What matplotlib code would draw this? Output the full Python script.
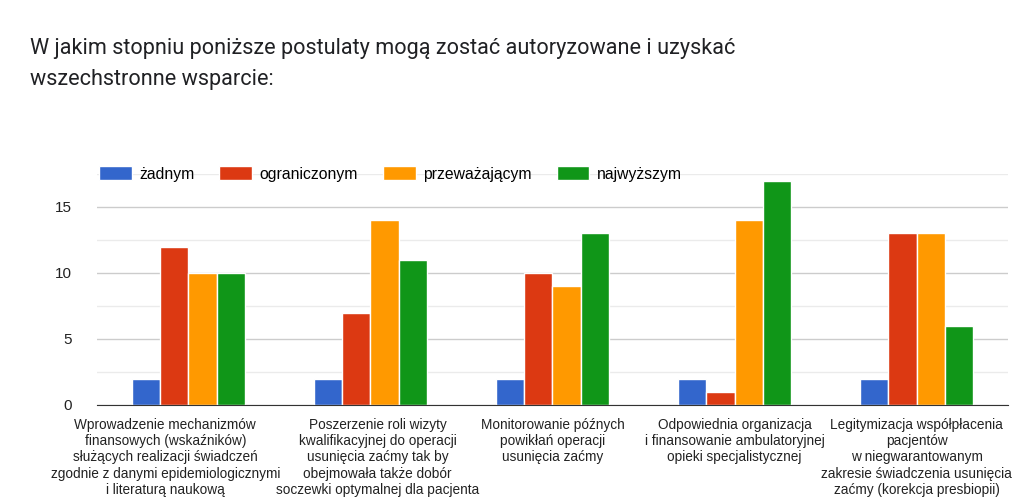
import matplotlib.pyplot as plt
import matplotlib.transforms as mtransforms
import numpy as np

title = "W jakim stopniu poniższe postulaty mogą zostać autoryzowane i uzyskać\nwszechstronne wsparcie:"

categories = [
    "Wprowadzenie mechanizmów\nfinansowych (wskaźników)\nsłużących realizacji świadczeń\nzgodnie z danymi epidemiologicznymi\ni literaturą naukową",
    "Poszerzenie roli wizyty\nkwalifikacyjnej do operacji\nusunięcia zaćmy tak by\nobejmowała także dobór\nsoczewki optymalnej dla pacjenta",
    "Monitorowanie późnych\npowikłań operacji\nusunięcia zaćmy",
    "Odpowiednia organizacja\ni finansowanie ambulatoryjnej\nopieki specjalistycznej",
    "Legitymizacja współpłacenia\npacjentów\nw niegwarantowanym\nzakresie świadczenia usunięcia\nzaćmy (korekcja presbiopii)",
]

series_names = ["żadnym", "ograniczonym", "przeważającym", "najwyższym"]
zadnym = [2, 2, 2, 2, 2]
ograniczonym = [12, 7, 10, 1, 13]
przewazajacym = [10, 14, 9, 14, 13]
najwyzszym = [10, 11, 13, 17, 6]
colors = ["#3366cc", "#dc3912", "#ff9900", "#109618"]

values = [zadnym, ograniczonym, przewazajacym, najwyzszym]

fig = plt.figure(figsize=(10.24, 5), dpi=100)
ax = fig.add_axes([0.095, 0.19, 0.889, 0.462])

x = np.arange(len(categories))
w = 0.155
for i, (name, vals) in enumerate(zip(series_names, values)):
    ax.bar(x + (i - 1.5) * w, vals, width=w, color=colors[i], label=name,
           edgecolor="white", linewidth=1, zorder=3)

ax.set_xlim(-0.5, len(categories) - 0.5)
ax.set_ylim(0, 17.5)
ax.set_yticks([0, 5, 10, 15])
ax.set_yticks([2.5, 7.5, 12.5, 17.5], minor=True)
ax.grid(axis="y", which="major", color="#cccccc", linewidth=1, zorder=0)
ax.grid(axis="y", which="minor", color="#ebebeb", linewidth=1, zorder=0)
for s in ["top", "right", "left"]:
    ax.spines[s].set_visible(False)
ax.spines["bottom"].set_color("#333333")
ax.spines["bottom"].set_zorder(4)
ax.tick_params(axis="y", which="both", length=0, labelsize=11, labelcolor="#222222", pad=18)
ax.tick_params(axis="x", length=0, labelsize=9.8, labelcolor="#222222", pad=9)
ax.set_xticks(x)
ax.set_xticklabels(categories, family="Liberation Sans", linespacing=1.22)
for lbl in ax.get_yticklabels():
    lbl.set_family("Liberation Sans")

# nudge the first two labels apart, like the original chart does
shifts = [-23, 7, 0, 0, 0]
for lbl, dx in zip(ax.get_xticklabels(), shifts):
    lbl.set_transform(lbl.get_transform() + mtransforms.ScaledTranslation(dx / 100, 0, fig.dpi_scale_trans))

ax.legend(loc="center left", bbox_to_anchor=(-0.005, 1.0), ncol=4, frameon=False,
          prop={"family": "Liberation Sans", "size": 11.3},
          handlelength=2.1, handleheight=1.0, handletextpad=0.45, columnspacing=1.6,
          borderaxespad=0)

fig.text(0.029, 0.872, title, fontsize=15.6, family="Roboto", color="#202124",
         va="center", ha="left", linespacing=1.6)

fig.savefig("out.png", dpi=100)
